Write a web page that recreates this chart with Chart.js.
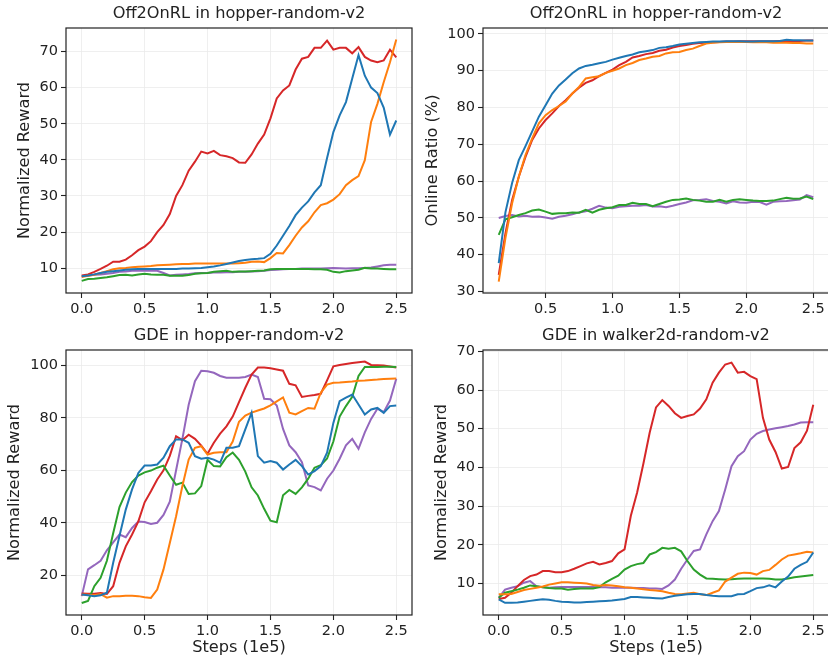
<!DOCTYPE html>
<html>
<head>
<meta charset="utf-8">
<title>Off2OnRL / GDE learning curves</title>
<script src="https://cdn.jsdelivr.net/npm/chart.js@4.4.0/dist/chart.umd.min.js"></script>
<style>
  html, body { margin: 0; padding: 0; background: #fff; overflow: hidden; width: 828px; height: 658px; }
  canvas { position: absolute; }
</style>
</head>
<body>
<canvas id="offReward" width="420" height="329" style="left:0;top:0"></canvas>
<canvas id="offRatio" width="420" height="329" style="left:417px;top:0"></canvas>
<canvas id="gdeHopper" width="420" height="336" style="left:0;top:322px"></canvas>
<canvas id="gdeWalker" width="420" height="336" style="left:417px;top:322px"></canvas>
<script>
// steps (1e5)
const steps = [0, 0.05, 0.1, 0.15, 0.2, 0.25, 0.3, 0.35, 0.4, 0.45, 0.5, 0.55, 0.6, 0.65, 0.7, 0.75, 0.8, 0.85, 0.9, 0.95,
  1.0, 1.05, 1.1, 1.15, 1.2, 1.25, 1.3, 1.35, 1.4, 1.45, 1.5, 1.55, 1.6, 1.65, 1.7, 1.75, 1.8, 1.85, 1.9, 1.95,
  2.0, 2.05, 2.1, 2.15, 2.2, 2.25, 2.3, 2.35, 2.4, 2.45, 2.5];
const ratioSteps = [0.15, 0.2, 0.25, 0.3, 0.35, 0.4, 0.45, 0.5, 0.55, 0.6, 0.65, 0.7, 0.75, 0.8, 0.85, 0.9, 0.95,
  1.0, 1.05, 1.1, 1.15, 1.2, 1.25, 1.3, 1.35, 1.4, 1.45, 1.5, 1.55, 1.6, 1.65, 1.7, 1.75, 1.8, 1.85, 1.9, 1.95,
  2.0, 2.05, 2.1, 2.15, 2.2, 2.25, 2.3, 2.35, 2.4, 2.45, 2.5];

// Off2OnRL, hopper-random-v2: normalized reward
const offRewardBlue = [7.8, 8, 8.3, 8.7, 9, 9.2, 9.4, 9.6, 9.7, 9.8, 9.8, 9.8, 9.8, 9.8, 9.8, 9.8, 9.9, 9.9, 10, 10.1,
  10.3, 10.5, 10.8, 11.2, 11.6, 12, 12.3, 12.5, 12.6, 12.8, 14, 16.3, 19, 21.7, 24.7, 26.8, 28.5, 31, 33, 40.5,
  47.7, 52.3, 56, 62.5, 69, 63.3, 60, 58.5, 54.5, 47, 50.9];
const offRewardOrange = [7.6, 7.9, 8.2, 8.7, 9.2, 9.7, 10, 10.1, 10.3, 10.4, 10.5, 10.6, 10.8, 10.9, 11, 11.1, 11.2, 11.2, 11.3, 11.3,
  11.3, 11.3, 11.3, 11.3, 11.3, 11.4, 11.5, 11.8, 11.9, 11.7, 12.8, 14.2, 14.1, 16.4, 19, 21.3, 23, 25.5, 27.5, 28,
  29, 30.5, 33, 34.4, 35.5, 39.9, 50.5, 55.5, 61.5, 67, 73.3];
const offRewardGreen = [6.5, 7, 7.1, 7.3, 7.5, 7.8, 8.1, 8.2, 8, 8.3, 8.5, 8.3, 8.2, 8.2, 7.9, 7.9, 7.9, 8.1, 8.5, 8.6,
  8.7, 9, 9.2, 9.3, 9, 9.1, 9.1, 9.2, 9.3, 9.4, 9.7, 9.8, 9.8, 9.8, 9.8, 9.8, 9.8, 9.7, 9.7, 9.6,
  9, 8.8, 9.2, 9.4, 9.6, 10.1, 9.9, 9.9, 9.8, 9.7, 9.7];
const offRewardRed = [8, 8.3, 9, 9.8, 10.7, 11.8, 11.8, 12.4, 13.6, 15, 16, 17.5, 20, 22, 25, 30, 33, 37, 39.5, 42.3,
  41.8, 42.5, 41.3, 41, 40.5, 39.3, 39.2, 41.5, 44.5, 47, 51.5, 57, 59.2, 60.6, 65, 68, 68.5, 71, 71, 73,
  70.5, 71, 71, 69.5, 71.2, 68.5, 67.5, 67, 67.5, 70.5, 68.4];
const offRewardPurple = [7.8, 8, 8.2, 8.3, 8.5, 8.7, 9, 9.1, 9.3, 9.3, 9.3, 9.3, 9.3, 8.7, 8, 8.2, 8.3, 8.4, 8.6, 8.7,
  8.7, 8.8, 8.8, 8.9, 8.9, 9, 9, 9.1, 9.2, 9.3, 9.5, 9.6, 9.7, 9.8, 9.8, 9.9, 9.9, 9.9, 9.9, 10,
  10.1, 10, 9.9, 10, 10, 10.1, 10.2, 10.5, 10.8, 11, 11];

// Off2OnRL, hopper-random-v2: online ratio (%)
const ratioBlue = [37.7, 51.5, 59.5, 65.7, 69.5, 73.5, 77.5, 80.6, 83.8, 86, 87.6, 89.3, 90.6, 91.3, 91.6, 92, 92.4,
  93, 93.5, 94, 94.4, 95, 95.3, 95.6, 96.2, 96.4, 96.7, 97.1, 97.3, 97.5, 97.7, 97.8, 97.9, 97.9, 98, 98, 98,
  97.9, 97.9, 98, 98, 98, 98.1, 98.4, 98.3, 98.3, 98.2, 98.2];
const ratioOrange = [32.7, 44.5, 54, 61.2, 67.1, 71.6, 75.7, 77.9, 79.3, 80.4, 81.6, 83.8, 85.6, 87.9, 88.2, 88.5, 89.4,
  90, 90.6, 91.5, 92.1, 92.9, 93.3, 93.8, 94, 94.7, 95, 95.1, 95.6, 96, 96.7, 97.4, 97.6, 97.7, 97.8, 97.8, 97.8,
  97.8, 97.7, 97.7, 97.7, 97.6, 97.6, 97.6, 97.5, 97.5, 97.4, 97.4];
const ratioGreen = [45.4, 49.6, 50.2, 50.8, 51.3, 52, 52.3, 51.7, 51.1, 51.3, 51.3, 51.5, 51.4, 52.2, 51.4, 52.2, 52.6,
  52.9, 53.5, 53.5, 54.1, 53.8, 53.8, 53.2, 53.8, 54.4, 54.9, 55, 55.3, 54.9, 54.7, 54.4, 54.4, 54.9, 54.4, 54.9, 55.1,
  54.9, 54.7, 54.6, 54.6, 54.7, 55.1, 55.5, 55.2, 55.3, 55.8, 55.1];
const ratioRed = [34.5, 45.8, 54.9, 61.2, 66.6, 71.2, 74.3, 76.6, 78.4, 80.4, 82, 83.8, 85.4, 86.7, 87.4, 88.5, 89.4,
  90.3, 91.5, 92.4, 93.6, 94, 94.5, 94.8, 95.4, 95.7, 96.3, 96.7, 97, 97.3, 97.5, 97.6, 97.7, 97.8, 97.9, 97.9, 98,
  98, 98, 98, 98, 98, 98.1, 98.1, 98.1, 98.1, 98.2, 98.2];
const ratioPurple = [50, 50.5, 50.8, 50.4, 50.6, 50.3, 50.4, 50.1, 49.8, 50.3, 50.6, 51, 51.5, 51.8, 52.5, 53.3, 52.8,
  52.6, 53, 53.2, 53.3, 53.3, 53.5, 53.1, 53.2, 52.9, 53.3, 53.8, 54.2, 54.8, 54.9, 55.1, 54.6, 54.4, 53.9, 54.5, 54.2,
  54.1, 54.4, 54.3, 53.6, 54.4, 54.5, 54.6, 54.8, 55, 56.2, 55.6];

// GDE, hopper-random-v2: normalized reward
const hopperBlue = [12.6, 12.3, 12, 12.3, 13.3, 24.7, 34.9, 45, 52.7, 59, 61.8, 61.8, 62.2, 64.8, 69.2, 71.8, 71.8, 70.5, 65.4, 64.4,
  64.8, 64.1, 62.9, 68.6, 68.6, 69.2, 75.6, 82, 65.4, 62.9, 63.5, 62.9, 60.3, 62.2, 64, 61.6, 58.4, 59.7, 61.6, 66.7,
  78.1, 86.4, 87.7, 88.9, 85.1, 81.3, 83.2, 83.8, 81.9, 84.5, 84.7];
const hopperOrange = [12.6, 12.5, 12.3, 12.8, 11.4, 12, 12, 12.1, 12.1, 12, 11.6, 11.3, 14.5, 22.2, 32.3, 42.5, 54, 64.1, 68.6, 69.2,
  66, 66.7, 66.9, 66.9, 71, 78.5, 80.9, 82, 82.8, 83.6, 84.8, 86.3, 87.8, 82, 81.3, 82.6, 83.8, 83.5, 89.6, 92.7,
  93.4, 93.5, 93.7, 93.9, 94.2, 94.3, 94.5, 94.6, 94.8, 94.9, 95];
const hopperGreen = [9.4, 10.2, 15.8, 19, 25.5, 36, 46, 51.5, 55.5, 58, 59.2, 59.9, 61, 61.8, 58, 54.5, 55.3, 51, 51.2, 54,
  64, 61.6, 61.5, 65, 66.8, 64, 59.5, 53.5, 50.4, 45.3, 40.8, 40.2, 50.5, 52.5, 51, 53.5, 56.8, 61, 62, 64.5,
  71, 80.5, 84.5, 88, 96, 99.4, 99.4, 99.4, 99.5, 99.5, 99.4];
const hopperRed = [13, 12.9, 12.9, 13.2, 12.8, 15.8, 24.7, 31, 35.5, 40.5, 47.8, 52, 56.5, 60, 65.5, 73, 71.5, 73.6, 72, 69.4,
  66.3, 70.5, 74, 76.8, 80.5, 86, 91.5, 96.5, 99.2, 99.2, 98.9, 98.5, 98, 93, 92.4, 88, 88.4, 88.7, 89.2, 94.3,
  99.7, 100.2, 100.6, 100.9, 101.2, 101.5, 100.2, 100.1, 100, 99.6, 99.2];
const hopperPurple = [12, 22.2, 23.8, 25.5, 29.5, 32.5, 35.5, 34.5, 38, 40.5, 40.3, 39.5, 40, 43, 48, 60, 72, 85, 94, 98,
  97.8, 97.2, 96, 95.3, 95.3, 95.3, 95.6, 96.5, 95.6, 87.3, 87.1, 84.7, 75.8, 69.5, 66.9, 63.1, 54.2, 53.6, 52.3, 56.8,
  59.9, 64.4, 69.5, 72, 68.2, 74.5, 79.6, 83.5, 82.2, 86.6, 94.9];

// GDE, walker2d-random-v2: normalized reward
const walkerBlue = [5.9, 5, 5, 5.1, 5.3, 5.5, 5.7, 5.9, 5.8, 5.5, 5.3, 5.2, 5.1, 5.1, 5.2, 5.3, 5.4, 5.5, 5.6, 5.8,
  6, 6.5, 6.5, 6.4, 6.3, 6.2, 6.1, 6.5, 6.8, 7, 7.2, 7.3, 7.3, 7, 6.8, 6.7, 6.7, 6.7, 7.2, 7.3,
  8, 8.8, 9, 9.5, 9, 10.5, 11.8, 13.8, 14.8, 15.6, 18];
const walkerOrange = [7.2, 7.2, 7.3, 7.8, 8.3, 8.6, 8.9, 9.2, 9.7, 10, 10.3, 10.3, 10.2, 10.1, 10, 9.6, 9.4, 9.6, 9.5, 9.3,
  9, 8.9, 8.7, 8.5, 8.3, 8.2, 8, 7.6, 7.3, 7.2, 7.4, 7.6, 7.2, 7, 7.6, 8.2, 10.5, 11.5, 12.5, 12.8,
  12.7, 12.3, 13.2, 13.5, 14.8, 16.2, 17.2, 17.5, 17.8, 18.2, 18];
const walkerGreen = [6.3, 7.6, 8, 8.4, 8.9, 9.5, 9.3, 9, 8.8, 8.7, 8.7, 8.4, 8.6, 8.7, 8.7, 8.7, 9.1, 10.3, 11.2, 12,
  13.6, 14.5, 15, 15.3, 17.5, 18.1, 19.2, 19, 19.2, 18.3, 15.8, 13.6, 12.3, 11.3, 11.2, 11.1, 11, 11.1, 11.2, 11.3,
  11.3, 11.3, 11.3, 11.2, 11, 11, 11.3, 11.6, 11.8, 12, 12.2];
const walkerRed = [6, 6.3, 7.6, 9.3, 10.9, 11.9, 12.3, 13.2, 13.2, 12.9, 12.9, 13.2, 13.8, 14.5, 15.2, 15.6, 14.9, 15.3, 15.8, 17.8,
  18.8, 27.5, 33.5, 41, 49, 55.5, 57.4, 55.9, 54, 52.8, 53.3, 53.7, 55.2, 57.6, 61.9, 64.5, 66.6, 67.1, 64.5, 64.7,
  63.6, 62.8, 52.8, 47.2, 44, 39.7, 40.1, 45, 46.5, 49.5, 56.2];
const walkerPurple = [6.3, 8.4, 8.9, 9.3, 10.2, 10.6, 9.3, 9, 8.9, 9, 9.1, 9.1, 9.1, 9.1, 9.1, 9.1, 9, 9, 8.9, 8.9,
  8.9, 8.9, 8.8, 8.8, 8.7, 8.7, 8.6, 9.5, 11, 13.8, 16.2, 18.4, 18.8, 22.7, 26.1, 28.7, 34.3, 40.3, 42.9, 44.2,
  47.2, 48.7, 49.4, 49.8, 50.1, 50.4, 50.7, 51.1, 51.6, 51.7, 51.7];

// tick labels
const stepTicks = [0.0, 0.5, 1.0, 1.5, 2.0, 2.5];
const ratioStepTicks = [0.5, 1.0, 1.5, 2.0, 2.5];
const offRewardTicks = [10, 20, 30, 40, 50, 60, 70];
const ratioTicks = [30, 40, 50, 60, 70, 80, 90, 100];
const hopperTicks = [20, 40, 60, 80, 100];
const walkerTicks = [10, 20, 30, 40, 50, 60, 70];

const colors = ['#1f77b4', '#ff7f0e', '#2ca02c', '#d62728', '#9467bd'];
const ink = '#222222';

Chart.defaults.font.family = "'DejaVu Sans', sans-serif";
Chart.defaults.color = ink;

// box around the plot area, like matplotlib spines
const frame = {
  id: 'frame',
  afterDatasetsDraw(chart) {
    const { ctx, chartArea: a } = chart;
    ctx.save();
    ctx.strokeStyle = ink;
    ctx.lineWidth = 1.2;
    ctx.strokeRect(a.left, a.top, a.right - a.left, a.bottom - a.top);
    ctx.restore();
  }
};

function axis(min, max, ticks, fmt, extra) {
  return Object.assign({
    type: 'linear',
    min: min,
    max: max,
    afterBuildTicks: s => { s.ticks = ticks.map(v => ({ value: v })); },
    ticks: { font: { size: 14.5 }, color: ink, padding: 3, callback: fmt, maxRotation: 0, autoSkip: false },
    grid: { color: '#ebebeb', lineWidth: 0.8, tickColor: ink, tickLength: 5, tickWidth: 1.1 },
    border: { display: false }
  }, extra);
}

function panel(id, cfg) {
  const datasets = cfg.series.map((vals, i) => ({
    data: cfg.xs.map((x, j) => ({ x: x, y: vals[j] })),
    borderColor: colors[i],
    borderWidth: 2,
    pointRadius: 0,
    fill: false,
    tension: 0
  }));
  new Chart(document.getElementById(id), {
    type: 'line',
    data: { datasets: datasets },
    options: {
      responsive: false,
      animation: false,
      devicePixelRatio: 1,
      layout: { padding: { left: 0, top: 0, right: 8, bottom: 0 } },
      plugins: {
        legend: { display: false },
        tooltip: { enabled: false },
        title: {
          display: true,
          text: cfg.title,
          fullSize: false,
          color: ink,
          font: { size: 16.2, weight: 'normal' },
          padding: { top: 4.3, bottom: 4.26 }
        }
      },
      scales: {
        x: axis(cfg.xMin, cfg.xMax, cfg.xTicks, v => v.toFixed(1), {
          afterFit: s => { s.height = cfg.xHeight; },
          title: {
            display: !!cfg.xTitle,
            text: cfg.xTitle || '',
            color: ink,
            font: { size: 16.2 },
            padding: { top: 0, bottom: 0.3 }
          }
        }),
        y: axis(cfg.yMin, cfg.yMax, cfg.yTicks, v => String(v), {
          afterFit: s => { s.width = 66; },
          title: {
            display: true,
            text: cfg.yTitle,
            color: ink,
            font: { size: 16.2 },
            padding: { top: cfg.yTitlePad, bottom: 0 }
          }
        })
      }
    },
    plugins: [frame]
  });
}

panel('offReward', {
  title: 'Off2OnRL in hopper-random-v2',
  xs: steps,
  series: [offRewardBlue, offRewardOrange, offRewardGreen, offRewardRed, offRewardPurple],
  xMin: -0.125, xMax: 2.625, xTicks: stepTicks, xHeight: 36,
  yMin: 3.15, yMax: 76.5, yTicks: offRewardTicks,
  yTitle: 'Normalized Reward', yTitlePad: 15.3
});

panel('offRatio', {
  title: 'Off2OnRL in hopper-random-v2',
  xs: ratioSteps,
  series: [ratioBlue, ratioOrange, ratioGreen, ratioRed, ratioPurple],
  xMin: 0.0325, xMax: 2.6175, xTicks: ratioStepTicks, xHeight: 36,
  yMin: 29.6, yMax: 101.6, yTicks: ratioTicks,
  yTitle: 'Online Ratio (%)', yTitlePad: 5.6
});

panel('gdeHopper', {
  title: 'GDE in hopper-random-v2',
  xs: steps,
  series: [hopperBlue, hopperOrange, hopperGreen, hopperRed, hopperPurple],
  xMin: -0.125, xMax: 2.625, xTicks: stepTicks, xHeight: 43, xTitle: 'Steps (1e5)',
  yMin: 4.8, yMax: 105.9, yTicks: hopperTicks,
  yTitle: 'Normalized Reward', yTitlePad: 5.3
});

panel('gdeWalker', {
  title: 'GDE in walker2d-random-v2',
  xs: steps,
  series: [walkerBlue, walkerOrange, walkerGreen, walkerRed, walkerPurple],
  xMin: -0.125, xMax: 2.625, xTicks: stepTicks, xHeight: 43, xTitle: 'Steps (1e5)',
  yMin: 1.85, yMax: 70.35, yTicks: walkerTicks,
  yTitle: 'Normalized Reward', yTitlePad: 14.6
});
</script>
</body>
</html>
